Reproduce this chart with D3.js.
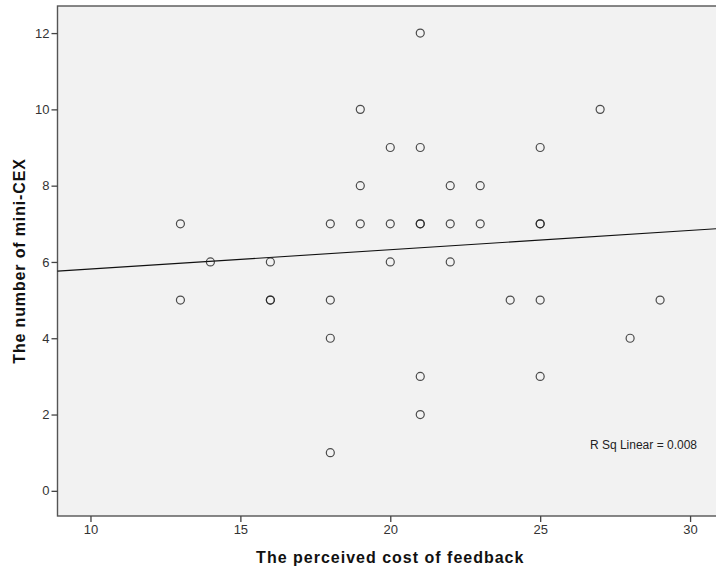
<!DOCTYPE html>
<html>
<head>
<meta charset="utf-8">
<script src="https://cdn.jsdelivr.net/npm/d3@7"></script>
<style>
  html, body { margin: 0; padding: 0; background: #ffffff; }
  svg { display: block; }
  text { font-family: Arial, "Liberation Sans", sans-serif; }
</style>
</head>
<body>
<svg id="chart" width="716" height="576"></svg>
<script>
// Perceived cost of feedback (x) vs number of mini-CEX (y), one entry per respondent
const costOfFeedback = [13, 13, 14, 16, 16, 16, 18, 18, 18, 18, 19, 19, 19, 20, 20, 20,
  21, 21, 21, 21, 21, 21, 22, 22, 22, 23, 23, 24, 25, 25, 25, 25, 25, 27, 28, 29];
const miniCexCount = [7, 5, 6, 6, 5, 5, 7, 5, 4, 1, 10, 8, 7, 9, 7, 6,
  12, 9, 7, 7, 3, 2, 8, 7, 6, 8, 7, 5, 9, 7, 7, 5, 3, 10, 4, 5];

const xTicks = [10, 15, 20, 25, 30];
const yTicks = [0, 2, 4, 6, 8, 10, 12];
const xDomain = [8.9, 31.6];
const yDomain = [-0.66, 12.71];
const xTitle = "The perceived cost of feedback";
const yTitle = "The number of mini-CEX";
const fitLabel = "R Sq Linear = 0.008";

const svg = d3.select("#chart");
const plot = { left: 57.5, top: 6, bottom: 516 };
plot.right = plot.left + (xDomain[1] - xDomain[0]) * 29.98;

const x = d3.scaleLinear().domain(xDomain).range([plot.left, plot.right]);
const y = d3.scaleLinear().domain(yDomain).range([plot.bottom, plot.top]);

const points = costOfFeedback.map((v, i) => ({ x: v, y: miniCexCount[i] }));

// Plot background and frame
svg.append("rect")
  .attr("x", plot.left).attr("y", plot.top)
  .attr("width", plot.right - plot.left).attr("height", plot.bottom - plot.top)
  .attr("fill", "#f2f2f2")
  .attr("stroke", "#555555").attr("stroke-width", 1.4);

// Axes
const axisStyle = g => {
  g.select(".domain").remove();
  g.selectAll(".tick line").attr("stroke", "#444444").attr("stroke-width", 1.3);
  g.selectAll(".tick text").attr("fill", "#333333")
    .style("font-size", "13px").style("font-family", "Arial, 'Liberation Sans', sans-serif");
};

svg.append("g")
  .attr("transform", `translate(0,${plot.bottom})`)
  .call(d3.axisBottom(x).tickValues(xTicks).tickSize(6).tickPadding(3))
  .call(axisStyle);

svg.append("g")
  .attr("transform", `translate(${plot.left},0)`)
  .call(d3.axisLeft(y).tickValues(yTicks).tickSize(6).tickPadding(2))
  .call(axisStyle);

// Least-squares fit line
const mx = d3.mean(points, d => d.x);
const my = d3.mean(points, d => d.y);
const sxy = d3.sum(points, d => (d.x - mx) * (d.y - my));
const sxx = d3.sum(points, d => (d.x - mx) ** 2);
const slope = sxy / sxx;
const intercept = my - slope * mx;

svg.append("line")
  .attr("x1", x(xDomain[0])).attr("y1", y(intercept + slope * xDomain[0]))
  .attr("x2", x(xDomain[1])).attr("y2", y(intercept + slope * xDomain[1]))
  .attr("stroke", "#111111").attr("stroke-width", 1.1);

// Observations as hollow circles (overlapping ones darken)
svg.append("g")
  .selectAll("circle")
  .data(points)
  .join("circle")
  .attr("cx", d => x(d.x))
  .attr("cy", d => y(d.y))
  .attr("r", 4)
  .attr("fill", "none")
  .attr("stroke", "#222222")
  .attr("stroke-opacity", 0.8)
  .attr("stroke-width", 1.2);

// Fit annotation
svg.append("text")
  .attr("x", 697).attr("y", 449)
  .attr("text-anchor", "end")
  .attr("fill", "#222222")
  .style("font-size", "12px")
  .text(fitLabel);

// Axis titles
svg.append("text")
  .attr("x", x(20)).attr("y", 563)
  .attr("text-anchor", "middle")
  .attr("fill", "#111111")
  .style("font-size", "16px").style("font-weight", "bold")
  .style("letter-spacing", "1px")
  .text(xTitle);

svg.append("text")
  .attr("transform", `translate(24.5,${(plot.top + plot.bottom) / 2}) rotate(-90)`)
  .attr("text-anchor", "middle")
  .attr("fill", "#111111")
  .style("font-size", "16px").style("font-weight", "bold")
  .style("letter-spacing", "0.85px")
  .text(yTitle);
</script>
</body>
</html>
